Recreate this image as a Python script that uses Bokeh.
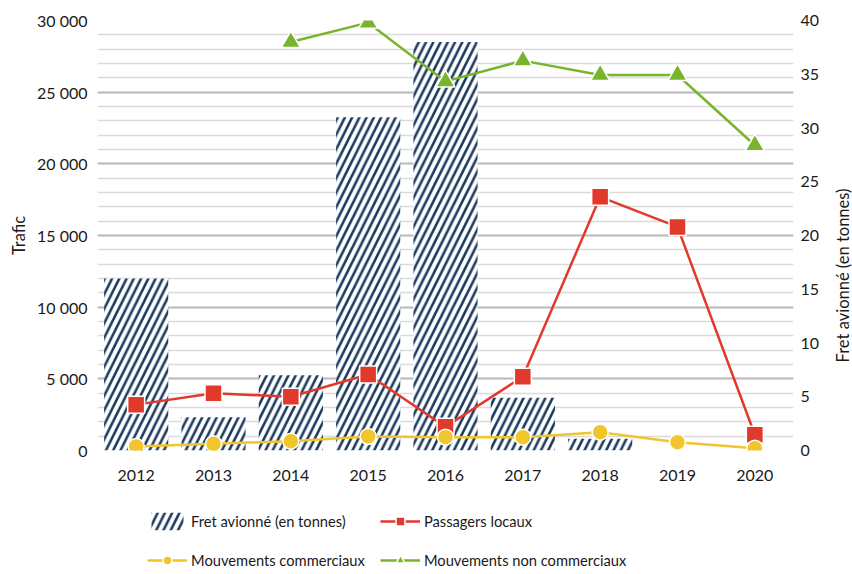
import math
from bokeh.plotting import figure
from bokeh.layouts import column, row
from bokeh.models import (Range1d, LinearAxis, SingleIntervalTicker, FixedTicker,
                          Legend, LegendItem, Label, FactorRange)
from bokeh.embed import file_html
from bokeh.resources import INLINE

# ---- data ----
years = ["2012", "2013", "2014", "2015", "2016", "2017", "2018", "2019", "2020"]
fret_tonnes = [16.0, 3.1, 7.0, 31.0, 38.0, 4.9, 1.1, 0.0, 0.0]
passagers_locaux = [3200, 4000, 3750, 5300, 1650, 5150, 17700, 15600, 1100]
mouvements_commerciaux = [280, 470, 650, 980, 930, 930, 1280, 580, 160]
nc_years = ["2014", "2015", "2016", "2017", "2018", "2019", "2020"]
mouvements_non_commerciaux = [28500, 29850, 25750, 27200, 26200, 26200, 21300]

left_ticks = [0, 5000, 10000, 15000, 20000, 25000, 30000]
left_tick_labels = ["0", "5 000", "10 000", "15 000", "20 000", "25 000", "30 000"]
right_ticks = [0, 5, 10, 15, 20, 25, 30, 35, 40]
series_labels = ["Fret avionné (en tonnes)", "Passagers locaux",
                 "Mouvements commerciaux", "Mouvements non commerciaux"]

# ---- style ----
FONT = "Lato"
TEXT = "#1a1a1a"
NAVY = "#1b3a5e"
RED = "#e2392d"
YELLOW = "#f1c52d"
GREEN = "#78b42c"

BAR_STYLE = dict(fill_color="white", line_color=None, hatch_pattern="/",
                 hatch_color=NAVY, hatch_scale=14.5, hatch_weight=2.6)
LINE_W = 2.5
MK = dict(line_color="white", line_width=1.5)

p = figure(x_range=FactorRange(*years), y_range=Range1d(0, 30000),
           width=832, height=492, output_backend="svg", toolbar_location=None,
           min_border_left=97, min_border_right=39, min_border_top=20,
           min_border_bottom=42)
p.extra_y_ranges = {"right": Range1d(0, 40)}
p.outline_line_color = None
p.background_fill_color = "white"
p.border_fill_color = "white"

p.xgrid.visible = False
p.ygrid.ticker = SingleIntervalTicker(interval=5000, num_minor_ticks=5)
p.ygrid.grid_line_color = "#bcbcbc"
p.ygrid.grid_line_width = 2
p.ygrid.minor_grid_line_color = "#dadada"
p.ygrid.minor_grid_line_width = 1.5

yax = p.yaxis[0]
yax.ticker = FixedTicker(ticks=left_ticks)
yax.major_label_overrides = {t: l for t, l in zip(left_ticks, left_tick_labels)}
yax.major_label_standoff = 10
yax.axis_label = "Trafic"
yax.axis_label_standoff = 5
yax.axis_label_text_font = FONT
yax.axis_label_text_font_size = "16.5px"
yax.axis_label_text_font_style = "normal"
yax.axis_label_text_color = TEXT

raxis = LinearAxis(y_range_name="right", ticker=FixedTicker(ticks=right_ticks))
raxis.major_label_standoff = 7
p.add_layout(raxis, "right")

xax = p.xaxis[0]
xax.major_label_standoff = 19

for ax in (yax, raxis, xax):
    ax.axis_line_color = None
    ax.major_tick_line_color = None
    ax.minor_tick_line_color = None
    ax.major_tick_out = 0
    ax.major_tick_in = 0
    ax.minor_tick_out = 0
    ax.minor_tick_in = 0
    ax.major_label_text_font = FONT
    ax.major_label_text_font_size = "16px"
    ax.major_label_text_color = TEXT

p.vbar(x=years, top=fret_tonnes, width=0.83, y_range_name="right", **BAR_STYLE)
p.line(years, passagers_locaux, line_color=RED, line_width=LINE_W)
p.scatter(years, passagers_locaux, marker="square", size=17, fill_color=RED, **MK)
p.line(years, mouvements_commerciaux, line_color=YELLOW, line_width=LINE_W)
p.scatter(years, mouvements_commerciaux, marker="circle", size=16, fill_color=YELLOW, **MK)
p.line(nc_years, mouvements_non_commerciaux, line_color=GREEN, line_width=LINE_W)
p.scatter(nc_years, mouvements_non_commerciaux, marker="triangle", size=19,
          fill_color=GREEN, **MK)

# ---- right-hand axis title strip (reads bottom-to-top) ----
r = figure(width=20, height=492, output_backend="svg", toolbar_location=None,
           x_range=Range1d(0, 1), y_range=Range1d(0, 430),
           x_axis_type=None, y_axis_type=None,
           min_border_left=0, min_border_right=0, min_border_top=20,
           min_border_bottom=42)
r.outline_line_color = None
r.grid.visible = False
r.add_layout(Label(x=0.5, y=175, text=series_labels[0], angle=math.pi / 2,
                   text_align="center", text_baseline="middle", text_font=FONT,
                   text_font_size="16.5px", text_color=TEXT))

# ---- legend strip (separate figure; its glyphs sit outside its visible range) ----
q = figure(width=852, height=82, output_backend="svg", toolbar_location=None,
           x_range=Range1d(0, 1), y_range=Range1d(0, 1),
           x_axis_type=None, y_axis_type=None,
           min_border_left=97, min_border_right=59, min_border_top=0,
           min_border_bottom=0)
q.outline_line_color = None
q.grid.visible = False
off_x, off_y = [-3, -2], [-3, -2]
lb = q.vbar(x=off_x, top=off_y, width=0.5, **BAR_STYLE)
l1 = q.line(x=off_x, y=off_y, line_color=RED, line_width=LINE_W)
s1 = q.scatter(x=off_x, y=off_y, marker="square", size=13, fill_color=RED, **MK)
l2 = q.line(x=off_x, y=off_y, line_color=YELLOW, line_width=LINE_W)
s2 = q.scatter(x=off_x, y=off_y, marker="circle", size=12, fill_color=YELLOW, **MK)
l3 = q.line(x=off_x, y=off_y, line_color=GREEN, line_width=LINE_W)
s3 = q.scatter(x=off_x, y=off_y, marker="triangle", size=12, fill_color=GREEN, **MK)

legend = Legend(items=[
    LegendItem(label=series_labels[0], renderers=[lb], index=0),
    LegendItem(label=series_labels[1], renderers=[l1, s1], index=0),
    LegendItem(label=series_labels[2], renderers=[l2, s2], index=0),
    LegendItem(label=series_labels[3], renderers=[l3, s3], index=0),
], orientation="horizontal", ncols=2, location=(50, 2),
    border_line_color=None, background_fill_alpha=0, padding=0, margin=0,
    spacing=15, label_standoff=4, glyph_width=40, glyph_height=22, label_height=24,
    label_text_font=FONT, label_text_font_size="14.7px", label_text_color=TEXT)
q.add_layout(legend)

layout = column(row(p, r, spacing=0), q, spacing=0)

with open("out.html", "w") as f:
    f.write(file_html(layout, INLINE))
